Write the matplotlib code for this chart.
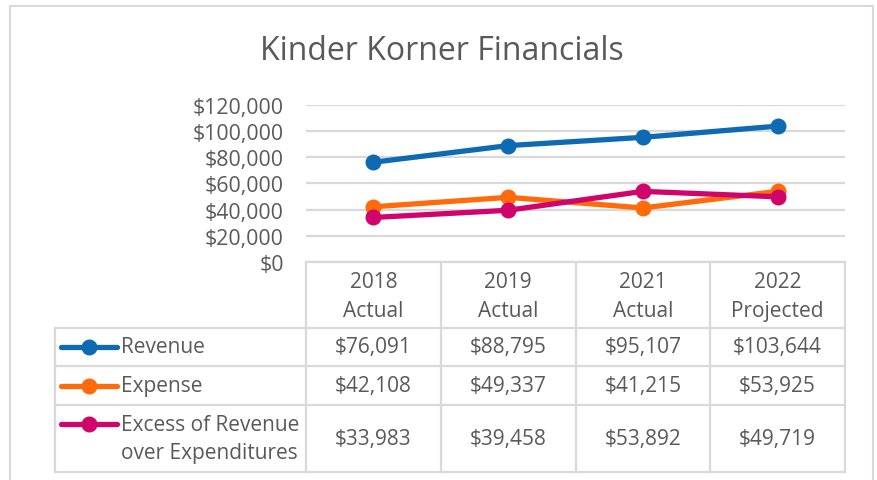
import matplotlib.pyplot as plt
from matplotlib.ticker import FuncFormatter

plt.rcParams['font.family'] = ['Open Sans', 'DejaVu Sans']

# data
years = ['2018\nActual', '2019\nActual', '2021\nActual', '2022\nProjected']
revenue = [76091, 88795, 95107, 103644]
expense = [42108, 49337, 41215, 53925]
excess = [33983, 39458, 53892, 49719]
series_names = ['Revenue', 'Expense', 'Excess of Revenue\nover Expenditures']
series_colors = ['#0F6AB4', '#FF6A0A', '#D1046C']

text_c = '#595959'
grid_c = '#D9D9D9'
W, H = 877, 481

fig = plt.figure(figsize=(W / 100, H / 100), dpi=100)

# overlay in pixel coords for the frame and the data table
ov = fig.add_axes([0, 0, 1, 1])
ov.set_xlim(0, W)
ov.set_ylim(H, 0)
ov.axis('off')

# chart frame
ov.plot([10, 10, 873, 873], [H + 5, 7, 7, H + 5], color=grid_c, lw=1.5)

ov.text(442, 51, 'Kinder Korner Financials', ha='center', va='center',
        fontsize=23, color=text_c)

# plot area
x0, x1, ytop, ybot = 306, 845, 105.7, 263
ax = fig.add_axes([x0 / W, 1 - ybot / H, (x1 - x0) / W, (ybot - ytop) / H])
ax.set_xlim(-0.5, 3.5)
ax.set_ylim(0, 120000)
ax.set_yticks(range(0, 120001, 20000))
ax.yaxis.set_major_formatter(FuncFormatter(lambda v, p: '${:,.0f}'.format(v)))
ax.tick_params(axis='y', length=0, labelsize=15.3, labelcolor=text_c, pad=16)
ax.set_xticks([])
ax.grid(axis='y', color=grid_c, lw=1.6)
ax.set_axisbelow(True)
for s in ax.spines.values():
    s.set_visible(False)
ax.patch.set_alpha(0)

xs = range(len(years))
for vals, c in zip([revenue, expense, excess], series_colors):
    ax.plot(xs, vals, color=c, lw=3.8, marker='o', markersize=10.5,
            solid_capstyle='round', clip_on=False)

# data table
col_w = (x1 - x0) / len(years)
cols = [x0 + i * col_w for i in range(len(years) + 1)]
rows = [329, 367, 406, 473]
lw_t = 1.6
ov.plot([x0, x1], [263, 263], color=grid_c, lw=lw_t)
for yv in rows:
    ov.plot([55, x1], [yv, yv], color=grid_c, lw=lw_t)
ov.plot([55, 55], [rows[0], rows[-1]], color=grid_c, lw=lw_t)
for xc in cols:
    ov.plot([xc, xc], [263, rows[-1]], color=grid_c, lw=lw_t)

for i, lab in enumerate(years):
    ov.text(cols[i] + col_w / 2, 297, lab, ha='center', va='center',
            fontsize=15, color=text_c, linespacing=1.45)

table_vals = [revenue, expense, excess]
for r, (name, c, vals) in enumerate(zip(series_names, series_colors, table_vals)):
    yc = (rows[r] + rows[r + 1]) / 2
    key_y = yc if r < 2 else 425
    ov.plot([61, 117], [key_y, key_y], color=c, lw=3.8, solid_capstyle='round')
    ov.plot([89], [key_y], marker='o', color=c, markersize=10.5)
    ov.text(121, yc, name, ha='left', va='center', fontsize=15,
            color=text_c, linespacing=1.45)
    for i, v in enumerate(vals):
        ov.text(cols[i] + col_w / 2, yc, '${:,.0f}'.format(v), ha='center',
                va='center', fontsize=15, color=text_c)

fig.savefig('out.png', dpi=100)
